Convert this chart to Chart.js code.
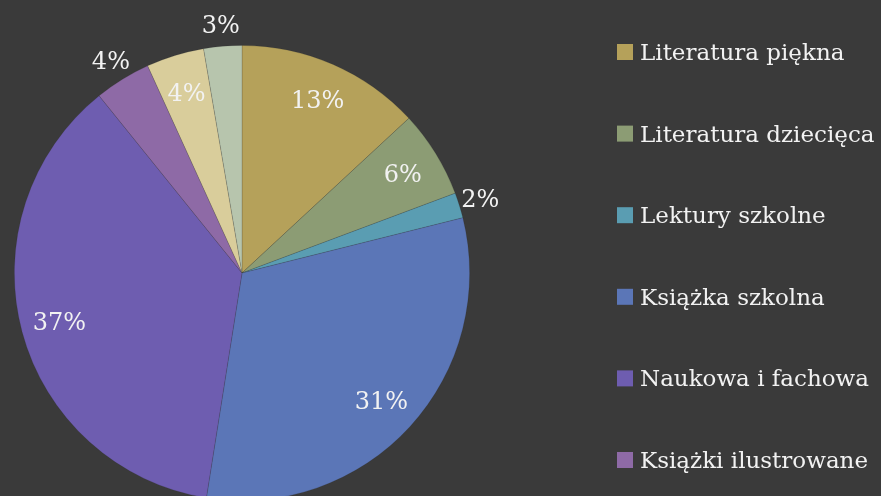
<!DOCTYPE html>
<html>
<head>
<meta charset="utf-8">
<script src="https://cdn.jsdelivr.net/npm/chart.js@4"></script>
<style>
    html, body { margin: 0; padding: 0; background: #3a3a3a; overflow: hidden; }
    #wrap { position: relative; width: 881px; height: 546px; }
</style>
</head>
<body>
<div id="wrap"><canvas id="pie"></canvas></div>
<script>
// data
const categories = ['Literatura piękna', 'Literatura dziecięca', 'Lektury szkolne', 'Książka szkolna',
    'Naukowa i fachowa', 'Książki ilustrowane', 'Poradniki', 'Pozostałe'];
const shares = [13.1, 6.2, 1.8, 31.4, 36.7, 4.0, 4.1, 2.7];
const colors = ['#b5a15a', '#8c9c74', '#5a9db2', '#5b76b7', '#6e5db0', '#8e6aa6', '#d9cd9b', '#b7c5ad'];
// slices whose label sits outside the pie
const outsideLabels = [2, 5, 7];

const FONT = '"DejaVu Serif", "Liberation Serif", serif';

// percent labels, like Excel's best fit
const pctLabels = {
    id: 'pctLabels',
    afterDatasetsDraw(chart) {
        const ctx = chart.ctx;
        const arcs = chart.getDatasetMeta(0).data;
        const total = shares.reduce((a, b) => a + b, 0);
        ctx.save();
        ctx.font = '24px ' + FONT;
        ctx.fillStyle = '#f2f2f2';
        ctx.textAlign = 'center';
        ctx.textBaseline = 'middle';
        arcs.forEach((arc, i) => {
            const mid = (arc.startAngle + arc.endAngle) / 2;
            const r = outsideLabels.includes(i) ? arc.outerRadius + 22 : arc.outerRadius * 0.83;
            const x = arc.x + Math.cos(mid) * r;
            const y = arc.y + Math.sin(mid) * r + 2;
            ctx.fillText(Math.round(shares[i] / total * 100) + '%', x, y);
        });
        ctx.restore();
    }
};

// legend on the right, rows spaced like the original
const sideLegend = {
    id: 'sideLegend',
    afterDraw(chart) {
        const ctx = chart.ctx;
        ctx.save();
        ctx.font = '23px ' + FONT;
        ctx.textBaseline = 'alphabetic';
        categories.forEach((label, i) => {
            const base = 60 + i * 81.6;
            ctx.fillStyle = colors[i];
            ctx.fillRect(617, base - 16, 16, 16);
            ctx.fillStyle = '#f2f2f2';
            ctx.fillText(label, 640, base);
        });
        ctx.restore();
    }
};

new Chart(document.getElementById('pie').getContext('2d'), {
    type: 'pie',
    data: {
        labels: categories,
        datasets: [{
            data: shares,
            backgroundColor: colors,
            borderColor: 'rgba(45,45,45,0.22)',
            borderWidth: 0.75
        }]
    },
    options: {
        responsive: true,
        maintainAspectRatio: false,
        animation: false,
        layout: { padding: { left: 14, top: 45, right: 411, bottom: 45 } },
        plugins: {
            legend: { display: false },
            tooltip: { enabled: false }
        }
    },
    plugins: [pctLabels, sideLegend]
});
</script>
</body>
</html>
